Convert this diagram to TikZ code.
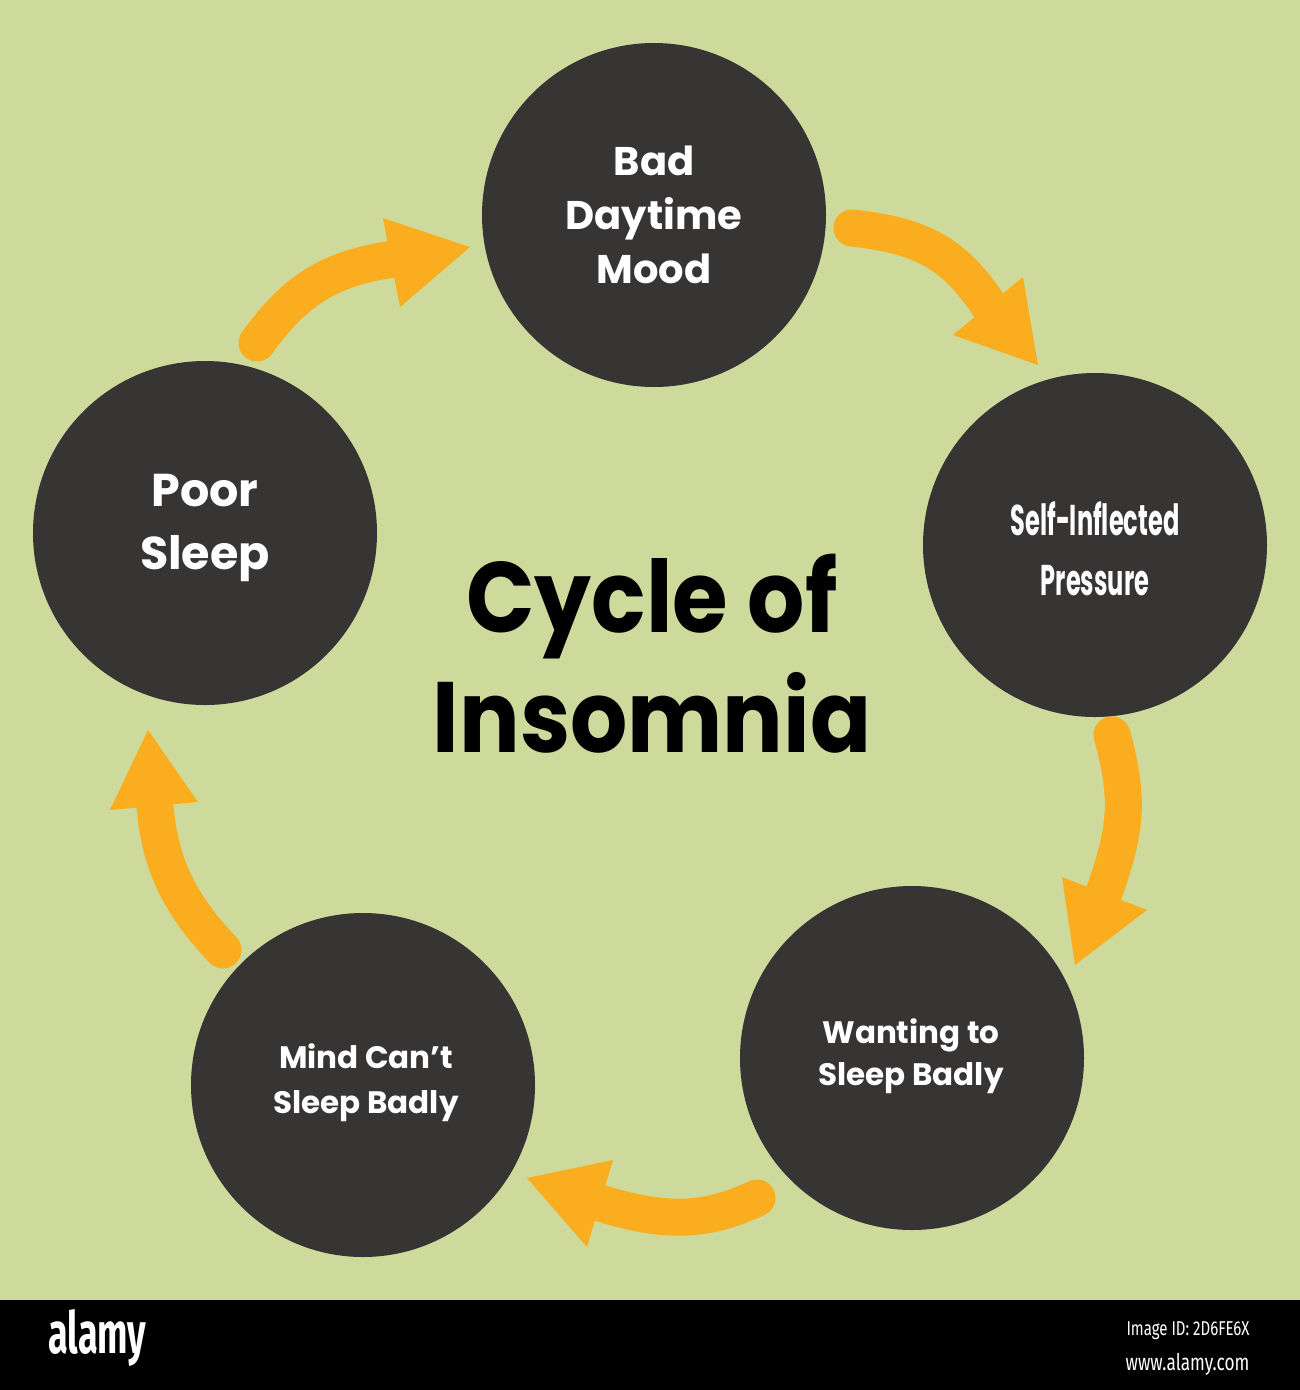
\documentclass[tikz,border=0pt]{standalone}
\usepackage{fontspec}
\setmainfont{Poppins}
\newfontfamily\barfont{Fira Sans}
\definecolor{bg}{HTML}{CEDA9C}
\definecolor{disc}{HTML}{373434}
\definecolor{arr}{HTML}{FAAD1E}
\begin{document}
\begin{tikzpicture}[x=1pt,y=-1pt,
  bubble/.style={circle,fill=disc,minimum size=344pt,inner sep=0pt},
  btext/.style={text=white,align=center,font=\bfseries},
  shaft/.style={draw=arr,line width=37pt,line cap=round},
  head/.style={fill=arr}]
\useasboundingbox (0,0) rectangle (1300,1390);
\fill[bg] (0,0) rectangle (1300,1300);
\fill[black] (0,1300) rectangle (1300,1390);
% circles
\node[bubble] (mood) at (654,215) {};
\node[bubble] (press) at (1095,545) {};
\node[bubble] (want) at (912,1058) {};
\node[bubble] (mind) at (363,1085) {};
\node[bubble] (poor) at (205,533) {};
% texts
\node[btext,font=\bfseries\fontsize{40}{54}\selectfont] (tmood) at (mood.center) {Bad\\Daytime\\Mood};
\node[btext,font=\bfseries\fontsize{46}{63}\selectfont] (tpoor) at (205,528) {Poor\\Sleep};
\node[btext,font=\bfseries\fontsize{43}{60}\selectfont,xscale=0.56] (tpress) at (1095,549) {Self-Inflected\\Pressure};
\node[btext,font=\bfseries\fontsize{31}{42}\selectfont] (twant) at (911,1056) {Wanting to\\Sleep Badly};
\node[btext,font=\bfseries\fontsize{31}{45}\selectfont] (tmind) at (366,1083) {Mind Can’t\\Sleep Badly};
\node[align=center,font=\bfseries\fontsize{100}{120}\selectfont,xscale=0.9] (title) at (652,654) {Cycle\hspace{22pt}of\\Insomnia};
% arrows
\coordinate (a1s) at (257,343); \coordinate (a1e) at (394,259);
\draw[shaft] (a1s) .. controls (295,290) and (330,268) .. (a1e);
\fill[head] (383,218) -- (470,247) -- (400,307) -- cycle;
\coordinate (a2s) at (852,228); \coordinate (a2e) at (990,307);
\draw[shaft] (a2s) .. controls (925,236) and (955,255) .. (a2e);
\fill[head] (953,335) -- (1038,365) -- (1023,277) -- cycle;
\coordinate (a3s) at (1112,735); \coordinate (a3e) at (1104,893);
\draw[shaft] (a3s) .. controls (1130,800) and (1126,830) .. (a3e);
\fill[head] (1062,877) -- (1075,965) -- (1147,910) -- cycle;
\coordinate (a4s) at (757,1198); \coordinate (a4e) at (600,1203);
\draw[shaft] (a4s) .. controls (710,1220) and (670,1225) .. (a4e);
\fill[head] (613,1160) -- (527,1178) -- (587,1247) -- cycle;
\coordinate (a5s) at (223,950); \coordinate (a5e) at (155,806);
\draw[shaft] (a5s) .. controls (185,910) and (160,870) .. (a5e);
\fill[head] (110,810) -- (148,730) -- (198,802) -- cycle;
% bottom bar
\node[text=white,font=\barfont\bfseries\fontsize{58}{60}\selectfont,xscale=0.62,anchor=west] (brand) at (46,1338) {alamy};
\node[text=white,font=\barfont\fontsize{20}{22}\selectfont,xscale=0.75,anchor=east] (imgid) at (1252,1331) {Image ID: 2D6FE6X};
\node[text=white,font=\barfont\fontsize{23}{25}\selectfont,xscale=0.75,anchor=east] (www) at (1252,1364) {www.alamy.com};
\end{tikzpicture}
\end{document}
